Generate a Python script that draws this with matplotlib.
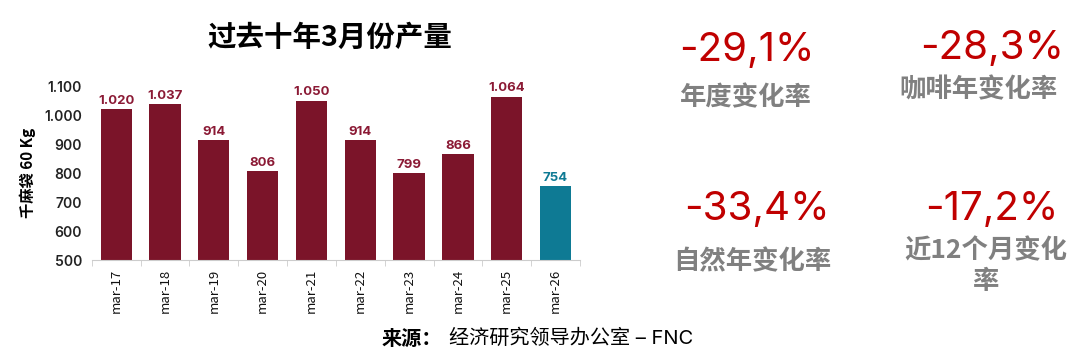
import matplotlib
matplotlib.use("Agg")
import matplotlib.pyplot as plt
import numpy as np

plt.rcParams['font.family'] = ['Noto Sans CJK SC', 'DejaVu Sans']

# data
months = ['mar-17', 'mar-18', 'mar-19', 'mar-20', 'mar-21',
          'mar-22', 'mar-23', 'mar-24', 'mar-25', 'mar-26']
production = [1020, 1037, 914, 806, 1050, 914, 799, 866, 1064, 754]
yticks = [500, 600, 700, 800, 900, 1000, 1100]

kpi_values = ['-29,1%', '-28,3%', '-33,4%', '-17,2%']
kpi_labels = ['年度变化率', '咖啡年变化率', '自然年变化率', '近12个月变化\n率']

maroon = '#7B1429'
teal = '#0E7A94'
num_font = ['Inter', 'Noto Sans CJK SC']


def fmt(v):
    return f'{v:,}'.replace(',', '.')


fig = plt.figure(figsize=(10.8, 3.53), dpi=100)
ax = fig.add_axes([0.085, 0.263, 0.452, 0.493])

x = np.arange(len(months))
colors = [maroon] * (len(months) - 1) + [teal]
bars = ax.bar(x, production, width=0.64, color=colors, zorder=2)

for xi, v, c in zip(x, production, colors):
    lc = teal if c == teal else '#8B1A35'
    ax.text(xi, v + 8, fmt(v), ha='center', va='bottom', fontsize=9.5,
            fontweight='bold', color=lc, family=num_font)

ax.set_ylim(500, 1100)
ax.set_xlim(-0.5, len(months) - 0.5)
ax.set_yticks(yticks)
ax.set_yticklabels([fmt(t) for t in yticks], family=num_font, fontsize=10,
                   fontweight='semibold', color='#222222')
ax.set_xticks(x)
ax.set_xticklabels(months, rotation=90, fontsize=9.5, color='#111111')
ax.set_xticks(np.arange(-0.5, len(months)), minor=True)
ax.tick_params(axis='x', which='major', length=0, pad=6)
ax.tick_params(axis='x', which='minor', length=4, color='#CCCCCC')
ax.tick_params(axis='y', length=0, pad=7)
for s in ['top', 'right', 'left']:
    ax.spines[s].set_visible(False)
ax.spines['bottom'].set_color('#CCCCCC')

ax.set_ylabel('千麻袋 60 Kg', fontsize=11, fontweight='bold', labelpad=6)

fig.text(330 / 1080, 1 - 38 / 353, '过去十年3月份产量', ha='center', va='center',
         fontsize=20.5, fontweight='bold')

# KPI panel
val_pos = [(747, 50), (992, 48), (757, 210), (992, 210)]
lab_pos = [(746, 98), (979, 90), (752, 262), (986, 266)]
for v, l, (vx, vy), (lx, ly) in zip(kpi_values, kpi_labels, val_pos, lab_pos):
    fig.text(vx / 1080, 1 - vy / 353, v, ha='center', va='center',
             fontsize=29, color='#C00000', family=num_font)
    fig.text(lx / 1080, 1 - ly / 353, l, ha='center', va='center',
             fontsize=19, fontweight='bold', color='#808080',
             linespacing=1.2)

# source
fig.text(382 / 1080, 1 - 338 / 353, '来源：', ha='left', va='center',
         fontsize=14.5, fontweight='bold')
fig.text(449 / 1080, 1 - 338 / 353, '经济研究领导办公室 – FNC', ha='left',
         va='center', fontsize=14.5, family=['Inter', 'Noto Sans CJK SC'])

fig.savefig('out.png', dpi=100)
